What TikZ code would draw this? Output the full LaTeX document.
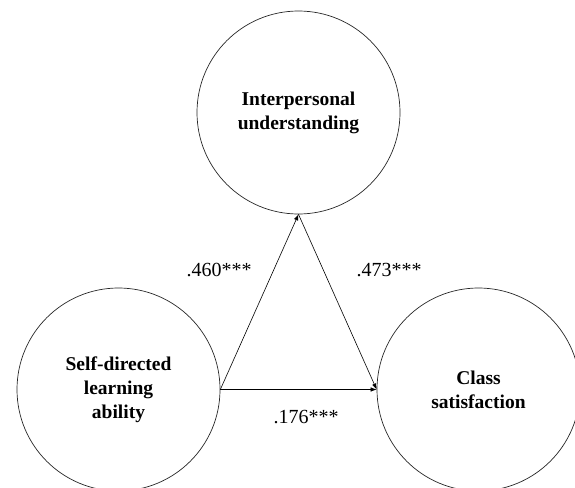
\documentclass[tikz,border=0pt]{standalone}
\usepackage{fontspec}
\setmainfont{Liberation Serif}
\usetikzlibrary{arrows.meta}
\begin{document}
\begin{tikzpicture}[x=1pt,y=-1pt,
  construct/.style={circle,draw=black!85,line width=0.7pt,minimum size=203pt,inner sep=0pt,
    align=center,font=\fontsize{19.5}{24}\selectfont\bfseries},
  path/.style={draw,line width=0.6pt,-{Latex[length=6pt,width=4.5pt]}},
  coef/.style={anchor=base,font=\fontsize{20}{24}\selectfont}]
\useasboundingbox (0,0) rectangle (575,487);
\node[construct] (T) at (298.5,112.5) {Interpersonal\\understanding};
\node[construct] (L) at (118.5,389.5) {Self-directed\\learning\\ability};
\node[construct] (R) at (478.5,389.5) {Class\\satisfaction};
\draw[path] (L.east) -- (T.south);
\draw[path] (T.south) -- (R.west);
\draw[path] (L.east) -- (R.west);
\node[coef] (a) at (219,276) {.460***};
\node[coef] (b) at (389,276) {.473***};
\node[coef] (c) at (306,423) {.176***};
\end{tikzpicture}
\end{document}
